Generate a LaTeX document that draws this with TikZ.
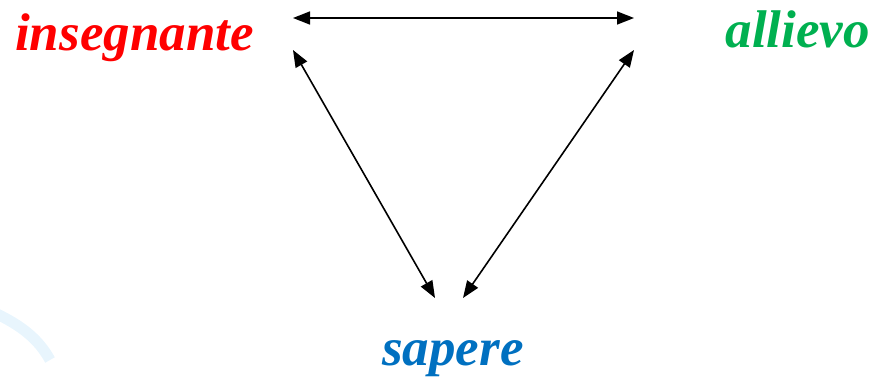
\documentclass[tikz,border=0pt]{standalone}
\usepackage{fontspec}
\setmainfont{Liberation Serif}
\usetikzlibrary{arrows.meta}
\definecolor{rosso}{HTML}{FF0000}
\definecolor{verde}{HTML}{00B050}
\definecolor{blu}{HTML}{0070C0}
\definecolor{celeste}{HTML}{E8F5FD}
\begin{document}
\begin{tikzpicture}[x=1pt,y=-1pt,
  wordlabel/.style={inner sep=0pt,font=\fontsize{53}{60}\selectfont\bfseries\itshape},
  link/.style={line width=1.6pt,{Triangle[length=17pt,width=13pt]}-{Triangle[length=17pt,width=13pt]}}]
\useasboundingbox (0,0) rectangle (873,378);
\draw[celeste,line width=11pt] (-5,313) .. controls (20,325) and (38,338) .. (50,360);
\node[wordlabel,text=rosso,anchor=base west] (ins) at (15,50) {insegnante};
\node[wordlabel,text=verde,anchor=base east] (all) at (870,47) {allievo};
\node[wordlabel,text=blu,anchor=base] (sap) at (453,365) {sapere};
\coordinate (topA) at (293,18);
\coordinate (topB) at (633,18);
\coordinate (diaA) at (293,50);
\coordinate (diaB) at (634,50);
\coordinate (botA) at (435,298);
\coordinate (botB) at (463,298);
\draw[link] (diaA |- topA) -- (diaB |- topB);
\draw[link] (diaA) -- (botA);
\draw[link] (diaB) -- (botB);
\end{tikzpicture}
\end{document}
